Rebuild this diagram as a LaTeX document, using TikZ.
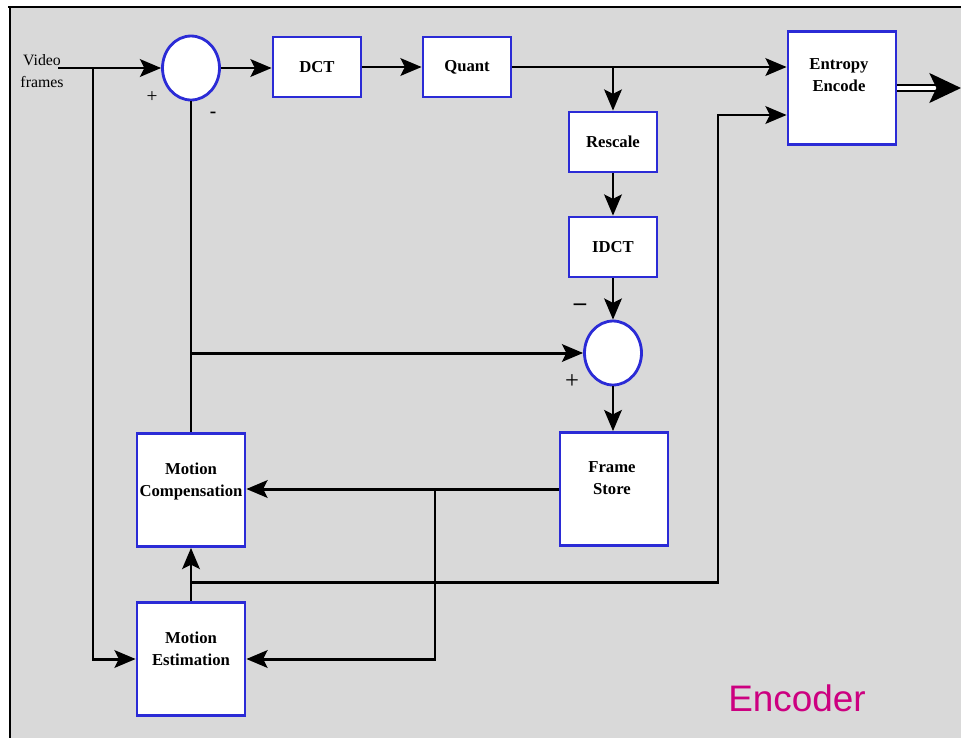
\documentclass[tikz,border=0pt]{standalone}
\usepackage{fontspec}
\setmainfont{Liberation Serif}
\newfontfamily\titlesans{Liberation Sans}
\usepackage{tikz}
\usetikzlibrary{arrows.meta,calc,shapes.geometric}
\definecolor{panelgray}{HTML}{D9D9D9}
\definecolor{boxblue}{HTML}{2B2BD6}
\definecolor{encmagenta}{HTML}{CC0080}

\tikzset{
    block/.style={draw=boxblue, line width=1.6pt, fill=white, minimum width=1.76cm, minimum height=1.2cm, inner sep=0pt, font=\bfseries\fontsize{9.5}{12.5}\selectfont},
    tallblock/.style={block, minimum width=2.16cm, minimum height=2.26cm},
    blocktext/.style={anchor=north, align=center, inner sep=0pt, font=\bfseries\fontsize{9.5}{12.5}\selectfont},
    summer/.style={ellipse, draw=boxblue, line width=1.6pt, fill=white, minimum width=1.14cm, minimum height=1.28cm, inner sep=0pt},
    flow/.style={line width=1.7pt, -{Stealth[length=12pt, width=10pt, inset=2.5pt]}},
    wire/.style={line width=1.7pt},
    sign/.style={inner sep=0pt, font=\fontsize{11}{12}\selectfont}
}

\begin{document}
\begin{tikzpicture}[x=0.02cm, y=-0.02cm]
    % Panel
    \useasboundingbox (0,0) rectangle (961,738);
    \fill[panelgray] (10,7) rectangle (961,738);
    \draw[line width=1.6pt] (8,7) -- (961,7);
    \draw[line width=1.6pt] (10,7) -- (10,738);

    % Blocks
    \node[summer] (sum1) at (191,68) {};
    \node[block] (dct) at (317,67) {DCT};
    \node[block] (quant) at (467,67) {Quant};
    \node[tallblock] (entropy) at (842,88) {};
    \node[blocktext] (entropytxt) at ($(entropy.north)+(-3,28)$) {Entropy\\Encode};
    \node[block] (rescale) at (613,142) {Rescale};
    \node[block] (idct) at (613,247) {IDCT};
    \node[summer] (sum2) at (613,353) {};
    \node[tallblock] (store) at (614,489) {};
    \node[blocktext] (storetxt) at ($(store.north)+(-2,30)$) {Frame\\Store};
    \node[tallblock] (mc) at (191,490) {};
    \node[blocktext] (mctxt) at ($(mc.north)+(0,30)$) {Motion\\Compensation};
    \node[tallblock] (me) at (191,659) {};
    \node[blocktext] (metxt) at ($(me.north)+(0,30)$) {Motion\\Estimation};

    % Labels
    \node[align=center, font=\fontsize{9}{12.5}\selectfont] (video) at (42,71) {Video\\frames};
    \node[sign] (plus1) at (152,97) {+};
    \node[sign, font=\bfseries\fontsize{11}{12}\selectfont] (minus1) at (213,115) {-};
    \node[sign, font=\bfseries\fontsize{14}{14}\selectfont] (minus2) at (580,307) {–};
    \node[sign, font=\fontsize{14}{14}\selectfont] (plus2) at (572,382) {+};
    \node[font=\titlesans\fontsize{21}{25}\selectfont, text=encmagenta] (title) at (797,698) {Encoder};

    % Branch points
    \coordinate (vin) at (58,68);
    \coordinate (split1) at (93,68);
    \coordinate (split2) at (quant.east -| rescale.north);
    \coordinate (mcjoin) at (sum1.south |- sum2.west);
    \coordinate (split3) at (435,489);
    \coordinate (mvsplit) at (191,582);
    \coordinate (mvtop) at (718,115);
    \coordinate (out) at (961,88);

    % Forward path
    \draw[flow] (vin) -- (sum1.west);
    \draw[flow] (split1) |- (me.west);
    \draw[flow] (sum1.east) -- (sum1.east -| dct.west);
    \draw[flow] (dct.east) -- (quant.west);
    \draw[flow] (quant.east) -- (quant.east -| entropy.west);
    \draw[flow] (split2) -- (rescale.north);
    \draw[flow] (rescale.south) -- (idct.north);
    \draw[flow] (idct.south) -- (sum2.north);
    \draw[flow] (sum2.south) -- (sum2.south |- store.north);

    % Prediction loop
    \draw[wire] (mc.north) -- (sum1.south);
    \draw[flow] (mcjoin) -- (sum2.west);
    \draw[flow] (store.west) -- (store.west -| mc.east);
    \draw[flow] (split3) |- (me.east);
    \draw[flow] (me.north) -- (mc.south);
    \draw[flow] (mvsplit) -| (mvtop) -- (mvtop -| entropy.west);

    % Output
    \draw[line width=1.2pt, double distance=2pt, -{Stealth[length=18pt, width=17pt, inset=4pt]}] (entropy.east) -- (out);
\end{tikzpicture}
\end{document}
